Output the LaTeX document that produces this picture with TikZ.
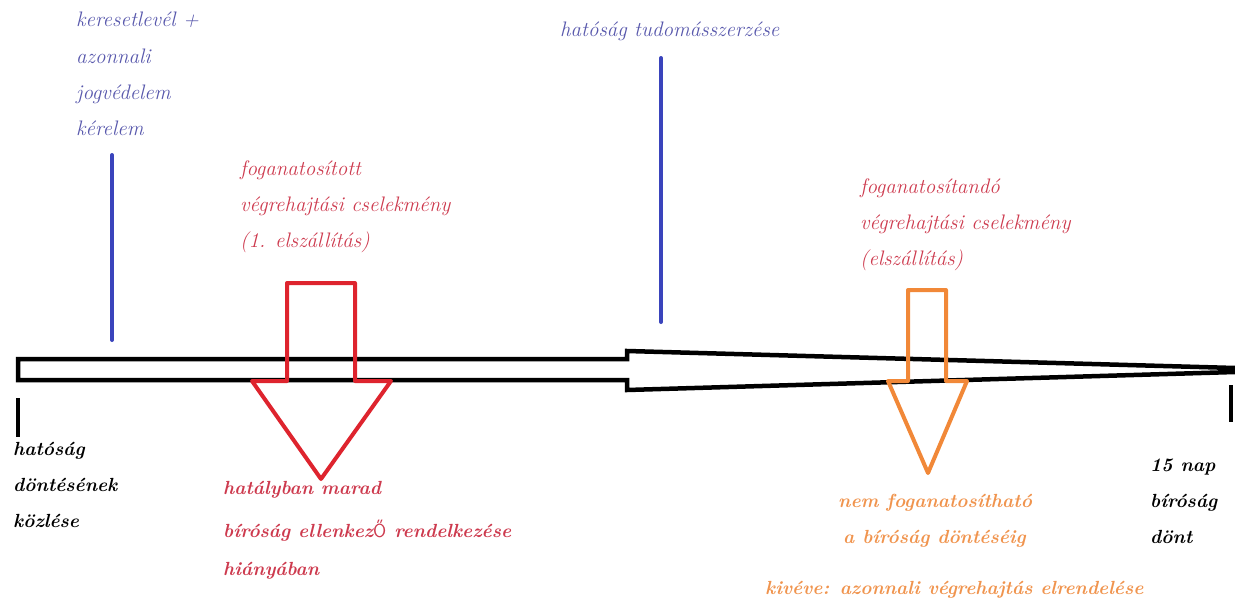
\documentclass[tikz,border=0pt]{standalone}
\usepackage{fontspec}
\definecolor{kekvonal}{RGB}{58,68,188}
\definecolor{kekszoveg}{RGB}{88,88,172}
\definecolor{pirosnyil}{RGB}{222,36,46}
\definecolor{pirosszoveg}{RGB}{205,58,78}
\definecolor{narancs}{RGB}{241,136,56}
\definecolor{narancsszoveg}{RGB}{240,148,78}
\tikzset{
  felirat/.style={anchor=base west, inner sep=0pt, font=\fontsize{21}{25}\selectfont\itshape},
  vastag/.style={felirat, font=\fontsize{19}{23}\selectfont\bfseries\itshape},
  idovonal/.style={line width=4.5pt, line join=miter},
  nyil/.style={line width=4pt, line join=round}
}

\begin{document}
\begin{tikzpicture}[x=1pt,y=-1pt]
    \useasboundingbox (0,0) rectangle (1235,605);
    % idovonal
    \draw[idovonal] (18,359)--(627,359)--(627,351)--(1235,368)--(1235,372)--(627,390)--(627,380)--(18,380)--cycle;
    \draw[line width=4.5pt] (18,398)--(18,437);
    \draw[line width=4.5pt] (1231,385)--(1231,422);
    % kek vonalak
    \draw[kekvonal, line width=4pt, line cap=round] (112,155)--(112,340);
    \draw[kekvonal, line width=4pt, line cap=round] (661,58)--(661,322);
    % nyilak
    \draw[nyil, pirosnyil] (287,381)--(287,283)--(355,283)--(355,381)--(391,381)--(321,479)--(252,381)--cycle;
    \draw[nyil, narancs] (908,381)--(908,290)--(946,290)--(946,381)--(967,381)--(928,473)--(888,381)--cycle;
    %\draw[nyil, narancs] (928,290)--(928,473);

    \node[felirat, kekszoveg] (ker1) at (76,26) {keresetlevél +};
    \node[felirat, kekszoveg] (ker2) at (76,63) {azonnali};
    \node[felirat, kekszoveg] (ker3) at (76,99) {jogvédelem};
    \node[felirat, kekszoveg] (ker4) at (76,135) {kérelem};
    \node[felirat, kekszoveg] (tud) at (560,36) {hatóság tudomásszerzése};

    \node[felirat, pirosszoveg] (fog1) at (240,175) {foganatosított};
    \node[felirat, pirosszoveg] (fog2) at (240,211) {végrehajtási cselekmény};
    \node[felirat, pirosszoveg] (fog3) at (240,247) {(1. elszállítás)};
    \node[felirat, pirosszoveg] (fgd1) at (860,193) {foganatosítandó};
    \node[felirat, pirosszoveg] (fgd2) at (860,229) {végrehajtási cselekmény};
    \node[felirat, pirosszoveg] (fgd3) at (860,265) {(elszállítás)};

    \node[vastag, pirosszoveg] (hat1) at (223,494) {hatályban marad};
    \node[vastag, pirosszoveg] (hat2) at (223,537) {bíróság ellenkez{\sffamily\upshape\mdseries Ő} rendelkezése};
    \node[vastag, pirosszoveg] (hat3) at (223,575) {hiányában};

    \node[vastag, narancsszoveg] (nem1) at (838,507) {nem foganatosítható};
    \node[vastag, narancsszoveg] (nem2) at (843,543) {a bíróság döntéséig};
    \node[vastag, narancsszoveg] (kiv) at (765,594) {kivéve: azonnali végrehajtás elrendelése};

    \node[vastag] (kozl1) at (13,455) {hatóság};
    \node[vastag] (kozl2) at (13,491) {döntésének};
    \node[vastag] (kozl3) at (13,527) {közlése};
    \node[vastag] (nap1) at (1150,471) {15 nap};
    \node[vastag] (nap2) at (1150,507) {bíróság};
    \node[vastag] (nap3) at (1150,543) {dönt};
\end{tikzpicture}
\end{document}
